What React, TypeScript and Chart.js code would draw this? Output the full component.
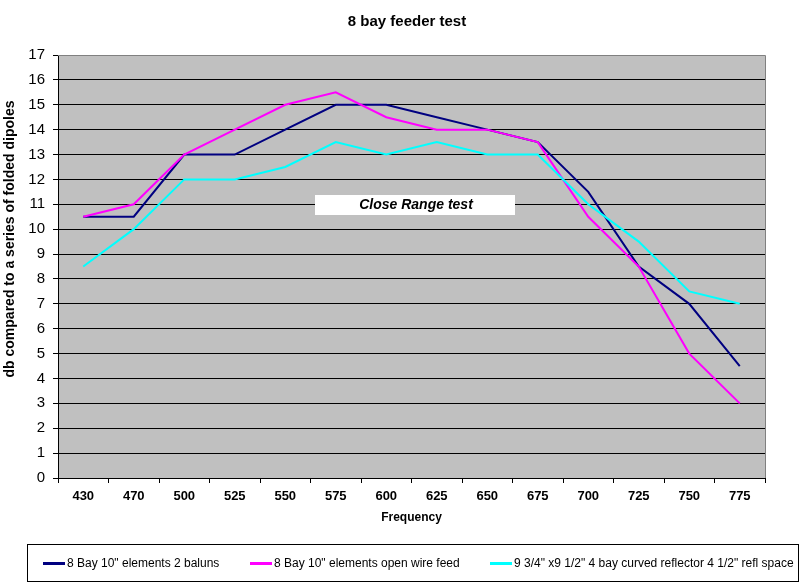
import React, { useEffect, useRef } from "react";
import { Chart, registerables } from "chart.js";

Chart.register(...registerables);

const categories = ["430", "470", "500", "525", "550", "575", "600", "625", "650", "675", "700", "725", "750", "775"];
const baluns = [10.5, 10.5, 13, 13, 14, 15, 15, 14.5, 14, 13.5, 11.5, 8.5, 7, 4.5];
const openWire = [10.5, 11, 13, 14, 15, 15.5, 14.5, 14, 14, 13.5, 10.5, 8.5, 5, 3];
const curved = [8.5, 10, 12, 12, 12.5, 13.5, 13, 13.5, 13, 13, 11, 9.5, 7.5, 7];
const seriesLabels = [
  '8 Bay 10" elements 2 baluns',
  '8 Bay 10" elements open wire feed',
  '9 3/4" x9 1/2" 4 bay curved reflector 4 1/2" refl space',
];
const seriesColors = ["#000080", "#FF00FF", "#00FFFF"];
const chartTitle = "8 bay feeder test";
const yTitle = "db compared to a series of folded dipoles";
const noteText = "Close Range test";

const FONT = "'Liberation Sans', Arial, sans-serif";

const decorPlugin = {
  id: "decor",
  beforeDraw(chart: any) {
    const { ctx, chartArea } = chart;
    ctx.save();
    ctx.fillStyle = "#C0C0C0";
    ctx.fillRect(chartArea.left, chartArea.top, chartArea.right - chartArea.left, chartArea.bottom - chartArea.top);
    ctx.restore();
  },
  afterDraw(chart: any) {
    const { ctx, chartArea } = chart;
    ctx.save();
    // grey plot border top/right
    ctx.strokeStyle = "#808080";
    ctx.lineWidth = 1;
    ctx.beginPath();
    ctx.moveTo(chartArea.left, chartArea.top + 0.5);
    ctx.lineTo(chartArea.right + 0.5, chartArea.top + 0.5);
    ctx.lineTo(chartArea.right + 0.5, chartArea.bottom);
    ctx.stroke();

    // chart title
    ctx.fillStyle = "#000000";
    ctx.textAlign = "center";
    ctx.textBaseline = "middle";
    ctx.font = `bold 15px ${FONT}`;
    ctx.fillText(chartTitle, 407, 22);

    // y axis title
    ctx.save();
    ctx.translate(10, 239);
    ctx.rotate(-Math.PI / 2);
    ctx.font = `bold 14px ${FONT}`;
    ctx.fillText(yTitle, 0, 0);
    ctx.restore();

    // Close Range test box
    ctx.fillStyle = "#FFFFFF";
    ctx.fillRect(315, 195, 200, 20);
    ctx.fillStyle = "#000000";
    ctx.font = `italic bold 14px ${FONT}`;
    ctx.fillText(noteText, 416, 205);

    // legend
    ctx.strokeStyle = "#000000";
    ctx.lineWidth = 1;
    ctx.strokeRect(27.5, 544.5, 771, 37);
    const xs = [43, 250, 490];
    ctx.font = `12px ${FONT}`;
    ctx.textAlign = "left";
    chart.data.datasets.forEach((ds: any, i: number) => {
      ctx.fillStyle = ds.borderColor;
      ctx.fillRect(xs[i], 562, 22, 3);
      ctx.fillStyle = "#000000";
      ctx.fillText(ds.label, xs[i] + 24, 564);
    });
    ctx.restore();
  },
};

export default function App() {
  const ref = useRef<HTMLCanvasElement>(null);
  useEffect(() => {
    if (!ref.current) return;
    const datasets = [baluns, openWire, curved].map((d, i) => ({
      label: seriesLabels[i],
      data: d,
      borderColor: seriesColors[i],
      backgroundColor: seriesColors[i],
      borderWidth: 2,
      pointRadius: 0,
      tension: 0,
      order: 2 - i,
    }));
    const chart = new Chart(ref.current, {
      type: "line",
      data: { labels: categories, datasets },
      plugins: [decorPlugin],
      options: {
        responsive: false,
        animation: false,
        layout: { padding: { left: 0, right: 40, top: 55, bottom: 55 } },
        plugins: {
          legend: { display: false },
          tooltip: { enabled: false },
          title: { display: false },
        },
        scales: {
          x: {
            type: "category",
            offset: true,
            afterFit(scale: any) {
              scale.height = 51;
            },
            grid: {
              offset: true,
              drawOnChartArea: false,
              drawTicks: true,
              tickLength: 5,
              color: "#000",
            },
            border: { display: true, color: "#000", width: 1 },
            ticks: {
              color: "#000",
              font: { family: FONT, size: 13, weight: "bold" },
              padding: 6,
              maxRotation: 0,
              autoSkip: false,
            },
            title: {
              display: true,
              text: "Frequency",
              color: "#000",
              font: { family: FONT, size: 12, weight: "bold", lineHeight: 1.2 },
              padding: { top: 4, bottom: 4 },
            },
          },
          y: {
            min: 0,
            max: 17,
            afterFit(scale: any) {
              scale.width = 58;
            },
            grid: {
              color: (c: any) => (c.tick && c.tick.value === 17 ? "#808080" : "#000"),
              tickColor: "#000",
              tickLength: 5,
              drawTicks: true,
            },
            border: { display: true, color: "#000", width: 1 },
            ticks: {
              stepSize: 1,
              color: "#000",
              font: { family: FONT, size: 15 },
              padding: 8,
            },
          },
        },
      },
    } as any);
    return () => chart.destroy();
  }, []);
  return (
    <div style={{ position: "absolute", left: 0, top: 0, width: 805, height: 584 }}>
      <canvas ref={ref} width={805} height={584} />
    </div>
  );
}
